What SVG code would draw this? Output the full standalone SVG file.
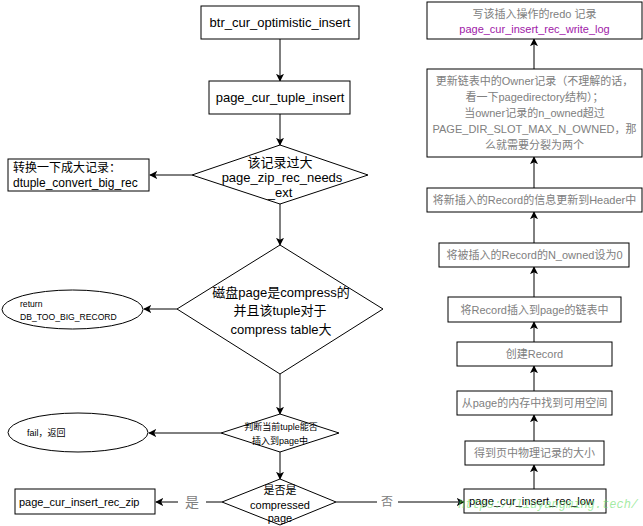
<svg xmlns="http://www.w3.org/2000/svg" width="643" height="526" viewBox="0 0 643 526">
<defs>
<marker id="arr" viewBox="0 0 10 10" refX="9" refY="5" markerWidth="8" markerHeight="8" orient="auto" markerUnits="userSpaceOnUse">
<path d="M0,0 L10,5 L0,10 L2.5,5 z" fill="#000"/>
</marker>
<style>
.n{fill:#fff;stroke:#000;stroke-width:1}
.t{font-family:"Liberation Sans","Noto Sans CJK SC",sans-serif;fill:#000;text-anchor:middle;dominant-baseline:central}
.g{fill:#808080}
.l{text-anchor:start}
.c{fill:none;stroke:#000;stroke-width:1;marker-end:url(#arr)}
.p{fill:none;stroke:#000;stroke-width:1}
</style>
</defs>
<rect width="643" height="526" fill="#fff"/>
<g id="connectors">
<line class="c" x1="280" y1="39" x2="280" y2="81"/>
<line class="c" x1="280" y1="114" x2="280" y2="145"/>
<line class="c" x1="192" y1="175" x2="150" y2="175"/>
<line class="c" x1="280" y1="204" x2="280" y2="245"/>
<line class="c" x1="177" y1="309" x2="144" y2="309"/>
<line class="c" x1="280" y1="374" x2="280" y2="414"/>
<line class="c" x1="221" y1="433" x2="149" y2="433"/>
<line class="c" x1="280" y1="452" x2="280" y2="479"/>
<line class="p" x1="222" y1="502" x2="206" y2="502"/>
<line class="c" x1="178" y1="502" x2="156" y2="502"/>
<line class="p" x1="336" y1="502" x2="377" y2="502"/>
<line class="c" x1="398" y1="502" x2="464" y2="502"/>
<line class="c" x1="534" y1="489" x2="534" y2="465"/>
<line class="c" x1="534" y1="441" x2="534" y2="415"/>
<line class="c" x1="534" y1="391" x2="534" y2="366"/>
<line class="c" x1="534" y1="342" x2="534" y2="322"/>
<line class="c" x1="534" y1="297" x2="534" y2="267"/>
<line class="c" x1="534" y1="243" x2="534" y2="212"/>
<line class="c" x1="534" y1="188" x2="534" y2="157"/>
<line class="c" x1="534" y1="69" x2="534" y2="39"/>
</g>
<g id="lbl-yes"><text class="t g" x="192" y="502" font-size="14">是</text></g>
<g id="lbl-no"><text class="t g" x="387" y="502" font-size="12">否</text></g>
<g id="n1">
<rect class="n" x="201" y="6" width="158" height="33"/>
<text class="t" x="280" y="22.5" font-size="13">btr_cur_optimistic_insert</text>
</g>
<g id="n2">
<rect class="n" x="209" y="81" width="141" height="33"/>
<text class="t" x="280" y="97.5" font-size="13">page_cur_tuple_insert</text>
</g>
<g id="n3">
<polygon class="n" points="280,145 368,175 280,204 192,175"/>
<text class="t" x="280" y="162" font-size="13">该记录过大</text>
<text class="t" x="282" y="177" font-size="13">page_zip_rec_needs</text>
<text class="t" x="280" y="192" font-size="13">_ext</text>
</g>
<g id="n4">
<rect class="n" x="8" y="159" width="141" height="32"/>
<text class="t l" x="13" y="168" font-size="12">转换一下成大记录：</text>
<text class="t l" x="13" y="183" font-size="12">dtuple_convert_big_rec</text>
</g>
<g id="n5">
<polygon class="n" points="280,245 383,309 280,374 177,309"/>
<text class="t" x="281" y="292" font-size="13">磁盘page是compress的</text>
<text class="t" x="280" y="310" font-size="13">并且该tuple对于</text>
<text class="t" x="281" y="329" font-size="13">compress table大</text>
</g>
<g id="n6">
<ellipse class="n" cx="72.5" cy="309.5" rx="70.5" ry="19.5"/>
<text class="t l" x="20" y="303.5" font-size="8.6">return</text>
<text class="t l" x="20" y="317" font-size="8.6">DB_TOO_BIG_RECORD</text>
</g>
<g id="n7">
<polygon class="n" points="280,414 339,433 280,452 221,433"/>
<text class="t" x="281" y="427" font-size="9">判断当前tuple能否</text>
<text class="t" x="280" y="441" font-size="9">插入到page中</text>
</g>
<g id="n8">
<ellipse class="n" cx="78" cy="432.5" rx="70" ry="19.5"/>
<text class="t l" x="27" y="433" font-size="9">fail，返回</text>
</g>
<g id="n9">
<polygon class="n" points="280,479 336,502 280,525 222,502"/>
<text class="t" x="280" y="490" font-size="11">是否是</text>
<text class="t" x="280" y="505" font-size="11">compressed</text>
<text class="t" x="280" y="518" font-size="11">page</text>
</g>
<g id="n10">
<rect class="n" x="15" y="489" width="140" height="25"/>
<text class="t l" x="19" y="502" font-size="11">page_cur_insert_rec_zip</text>
</g>
<g id="n11">
<rect class="n" x="464" y="489" width="142" height="24"/>
<text class="t l" x="469" y="501" font-size="11.2">page_cur_insert_rec_low</text>
</g>
<g id="n12">
<rect class="n" x="465" y="441" width="139" height="24"/>
<text class="t g" x="534.5" y="453" font-size="11">得到页中物理记录的大小</text>
</g>
<g id="n13">
<rect class="n" x="457" y="391" width="155" height="24"/>
<text class="t g" x="534.5" y="403" font-size="11">从page的内存中找到可用空间</text>
</g>
<g id="n14">
<rect class="n" x="457" y="342" width="155" height="24"/>
<text class="t g" x="534.5" y="354" font-size="11">创建Record</text>
</g>
<g id="n15">
<rect class="n" x="448" y="297" width="173" height="25"/>
<text class="t g" x="534.5" y="309.5" font-size="11">将Record插入到page的链表中</text>
</g>
<g id="n16">
<rect class="n" x="439" y="243" width="190" height="24"/>
<text class="t g" x="534.5" y="255" font-size="11">将被插入的Record的N_owned设为0</text>
</g>
<g id="n17">
<rect class="n" x="427" y="188" width="215" height="24"/>
<text class="t g" x="534.5" y="200" font-size="11">将新插入的Record的信息更新到Header中</text>
</g>
<g id="n18">
<rect class="n" x="427" y="69" width="215" height="88"/>
<text class="t g" x="534.5" y="81" font-size="11">更新链表中的Owner记录（不理解的话，</text>
<text class="t g" x="534.5" y="97" font-size="11">看一下pagedirectory结构）；</text>
<text class="t g" x="534.5" y="113" font-size="11">当owner记录的n_owned超过</text>
<text class="t g" x="534.5" y="129" font-size="11">PAGE_DIR_SLOT_MAX_N_OWNED，那</text>
<text class="t g" x="534.5" y="145" font-size="11">么就需要分裂为两个</text>
</g>
<g id="n19">
<rect class="n" x="427" y="2" width="215" height="37"/>
<text class="t g" x="534.5" y="14" font-size="11">写该插入操作的redo 记录</text>
<text class="t" x="534.5" y="29" font-size="11" style="fill:#a020a8">page_cur_insert_rec_write_log</text>
</g>
<g id="watermark">
<text x="458" y="508" font-family="Liberation Mono, monospace" font-size="12" fill="#66dd66" fill-opacity="0.6" font-style="italic">https://liuyangming.tech/</text>
</g>
</svg>
